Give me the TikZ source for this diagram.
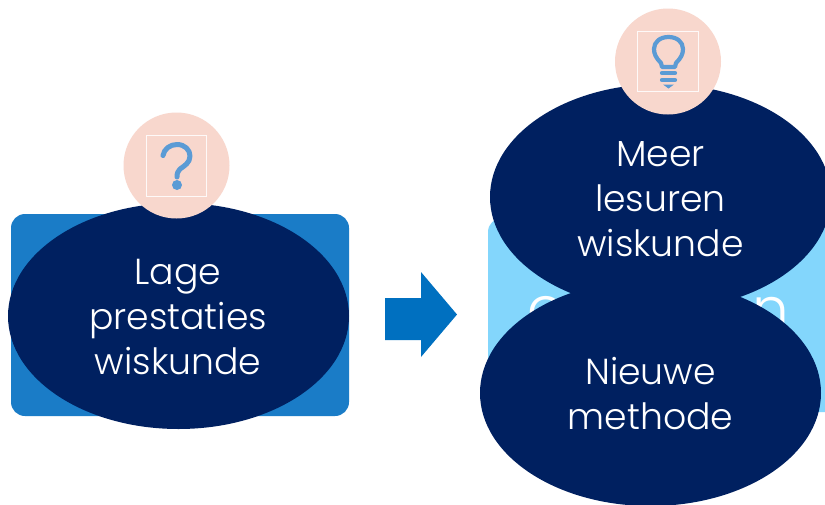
\documentclass[tikz,border=0pt]{standalone}
\usepackage{fontspec}
\setmainfont[UprightFont=* Light]{Poppins}
\usetikzlibrary{shapes.geometric}
\definecolor{navy}{HTML}{002060}
\definecolor{peach}{HTML}{F8D7CD}
\definecolor{iconblue}{HTML}{5B9BD5}
\definecolor{midblue}{HTML}{1A7CC7}
\definecolor{lightblue}{HTML}{83D6FC}
\definecolor{arrowblue}{HTML}{0070C0}
\tikzset{
  x=1pt,y=-1pt,
  blob/.style={ellipse,fill=navy,inner sep=0pt,minimum width=341pt,minimum height=226pt},
  blobtext/.style={text=white,font=\fontsize{36.2}{45}\selectfont,align=center,inner sep=0pt},
  badge/.style={circle,fill=peach,inner sep=0pt,minimum size=106pt},
  frame/.style={draw=white!85!peach,line width=1.4pt,inner sep=0pt,minimum size=60.5pt},
  icon/.style={draw=iconblue,line width=4.2pt,line cap=round,line join=round},
  hidden/.style={text=white,font=\fontsize{58}{60}\selectfont,inner sep=0pt,anchor=base}
}
\begin{document}
\begin{tikzpicture}
\useasboundingbox (0,0) rectangle (825,504);
\clip (0,0) rectangle (825,504);
\fill[white] (0,0) rectangle (825,504);
% boxes
\fill[midblue,rounded corners=14pt] (11,214) rectangle (349,416);
\fill[lightblue,rounded corners=14pt] (488,218) rectangle (860,412);
\node[hidden] (hl) at (546,328) {o};
\node[hidden] (hr) at (771,329) {n};
% arrow
\fill[arrowblue] (385,298) -- (421,298) -- (421,272) -- (457,314.5) -- (421,357) -- (421,340) -- (385,340) -- cycle;
% ellipses
\node[blob] (a) at (178.5,316) {};
\node[blob] (b) at (660.5,197) {};
\node[blob] (c) at (650.5,393) {};
\node[blobtext] (at) at (178,317.5) {Lage\\prestaties\\wiskunde};
\node[blobtext] (bt) at (660.5,199) {Meer\\lesuren\\wiskunde};
\node[blobtext] (ct) at (650.5,394) {Nieuwe\\methode};
% badges
\node[badge] (q) at (176.5,165.5) {};
\node[frame] (qf) at (176.5,166) {};
\node[badge] (l) at (668,61.5) {};
\node[frame] (lf) at (668,61.5) {};
% question mark
\draw[icon,line width=5pt] (163,155.5) .. controls (164,149) and (170,144.5) .. (177,144.5) .. controls (185,144.5) and (190,150) .. (190,156) .. controls (190,163) and (184,166) .. (180,169) .. controls (178,171) and (177,173) .. (177,177);
\fill[iconblue] (177,185) circle (5);
% bulb
\draw[icon] (661,63) .. controls (656,58) and (654,54) .. (654,49) .. controls (654,42) and (660,37) .. (668.5,37) .. controls (677,37) and (683,42) .. (683,49) .. controls (683,54) and (681,58) .. (676,63) -- (675,67) -- (662,67) -- cycle;
\draw[icon] (662,73) -- (675,73);
\draw[icon] (662,80) -- (675,80);
\fill[iconblue] (663,84.5) -- (674,84.5) -- (668.5,88.5) -- cycle;
\end{tikzpicture}
\end{document}
